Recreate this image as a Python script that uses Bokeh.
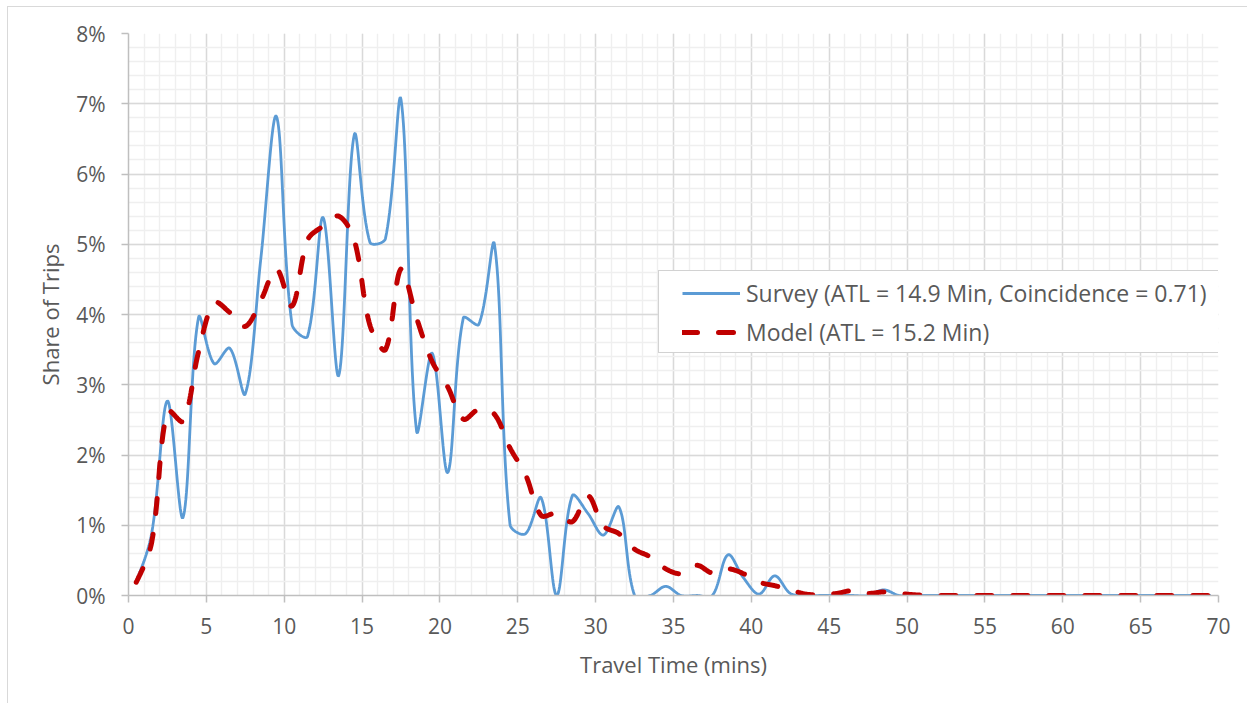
import numpy as np
from bokeh.plotting import figure
from bokeh.models import (FixedTicker, PrintfTickFormatter, Legend, LegendItem,
                          ColumnDataSource, Range1d)
from bokeh.embed import file_html
from bokeh.resources import INLINE

# ---- data (share of trips, %) ----
minutes = [0.5 + i for i in range(70)]
survey = [0.20, 0.90, 2.77, 1.11, 3.96, 3.30, 3.52, 2.87, 4.80, 6.82,
          3.86, 3.69, 5.38, 3.13, 6.56, 5.03, 5.08, 7.06, 2.34, 3.45,
          1.75, 3.95, 3.86, 5.00, 1.01, 0.88, 1.39, 0.00, 1.42, 1.17,
          0.86, 1.26, 0.00, 0.00, 0.13, 0.00, 0.00, 0.00, 0.58, 0.25,
          0.02, 0.28, 0.03, 0.00, 0.00, 0.00, 0.00, 0.00, 0.08, 0.00,
          0.00, 0.00, 0.00, 0.00, 0.00, 0.00, 0.00, 0.00, 0.00, 0.00,
          0.00, 0.00, 0.00, 0.00, 0.00, 0.00, 0.00, 0.00, 0.00, 0.00]
model = [0.19, 0.77, 2.63, 2.48, 3.47, 4.17, 4.03, 3.83, 4.20, 4.65,
         4.12, 5.06, 5.26, 5.40, 5.06, 3.85, 3.50, 4.65, 3.95, 3.33,
         2.97, 2.51, 2.65, 2.58, 2.10, 1.72, 1.14, 1.17, 1.05, 1.42,
         0.99, 0.88, 0.66, 0.55, 0.38, 0.31, 0.43, 0.32, 0.38, 0.31,
         0.19, 0.14, 0.08, 0.02, 0.01, 0.03, 0.07, 0.03, 0.05, 0.03,
         0.01, 0.00, 0.00, 0.00, 0.00, 0.00, 0.00, 0.00, 0.00, 0.00,
         0.00, 0.00, 0.00, 0.00, 0.00, 0.00, 0.00, 0.00, 0.00, 0.00]
x_ticks = list(range(0, 75, 5))
y_ticks = list(range(0, 9))
survey_label = "Survey (ATL = 14.9 Min, Coincidence = 0.71)"
model_label = "Model (ATL = 15.2 Min)"

FRAME_W, FRAME_H = 1090, 562
X_MAX, Y_MAX = 70.0, 8.0


def smooth(xs, ys, n=24):
    """Excel-like smoothed line: cubic Bezier segments whose control-point
    lengths are scaled by neighbouring chord lengths (in screen space)."""
    sx = FRAME_W / X_MAX
    sy = FRAME_H / Y_MAX
    P = np.column_stack([np.asarray(xs, float) * sx, np.asarray(ys, float) * sy])
    m = len(P)
    out = []
    t = np.linspace(0, 1, n, endpoint=False)[:, None]

    def ctrl(i):
        if i == 0 or i == m - 1:
            return P[i], P[i]
        d0 = np.hypot(*(P[i] - P[i - 1]))
        d1 = np.hypot(*(P[i + 1] - P[i]))
        T = P[i + 1] - P[i - 1]
        tot = d0 + d1 if d0 + d1 > 0 else 1.0
        k = 2.0 / 3.0 * 0.5
        return P[i] - T * d0 / tot * k, P[i] + T * d1 / tot * k

    C = [ctrl(i) for i in range(m)]
    for i in range(m - 1):
        p1, p2 = P[i], P[i + 1]
        c1 = C[i][1]
        c2 = C[i + 1][0]
        if i == 0:
            c1 = p1 + (c2 - p1) / 2.0
        if i == m - 2:
            c2 = p2 + (c1 - p2) / 2.0
        b = (1 - t) ** 3 * p1 + 3 * (1 - t) ** 2 * t * c1 + 3 * (1 - t) * t ** 2 * c2 + t ** 3 * p2
        out.append(b)
    out.append(P[-1][None, :])
    arr = np.vstack(out)
    return arr[:, 0] / sx, arr[:, 1] / sy


FONT = "Open Sans"
TXT = "#595959"

p = figure(width=1240, height=697, output_backend="svg", toolbar_location=None,
           x_range=Range1d(0, X_MAX), y_range=Range1d(0, Y_MAX),
           min_border_left=120, min_border_right=30, min_border_top=26,
           min_border_bottom=109)
p.styles = {"border-left": "1px solid #d9d9d9", "border-top": "1px solid #d9d9d9",
            "margin-left": "7px", "margin-top": "6px"}
p.outline_line_color = None
p.background_fill_color = "white"
p.border_fill_color = "white"

# grids
p.xgrid.ticker = FixedTicker(ticks=x_ticks, minor_ticks=list(range(0, 71)))
p.ygrid.ticker = FixedTicker(ticks=y_ticks, minor_ticks=[i * 0.2 for i in range(41)])
for g in (p.xgrid, p.ygrid):
    g.grid_line_color = "#d9d9d9"
    g.grid_line_width = 1.4
    g.minor_grid_line_color = "#efefef"
    g.minor_grid_line_width = 1.4

# axes
p.xaxis.ticker = FixedTicker(ticks=x_ticks)
p.yaxis.ticker = FixedTicker(ticks=y_ticks)
p.yaxis.formatter = PrintfTickFormatter(format="%d%%")
for ax in (p.xaxis, p.yaxis):
    ax.axis_line_color = "#bfbfbf"
    ax.axis_line_width = 1.5
    ax.major_tick_line_color = "#bfbfbf"
    ax.major_tick_line_width = 1.5
    ax.major_tick_out = 7
    ax.major_tick_in = 0
    ax.minor_tick_line_color = None
    ax.major_label_text_font = FONT
    ax.major_label_text_font_size = "21px"
    ax.major_label_text_color = TXT
    ax.axis_label_text_font = FONT
    ax.axis_label_text_font_size = "22px"
    ax.axis_label_text_color = TXT
    ax.axis_label_text_font_style = "normal"
p.xaxis.axis_label = "Travel Time (mins)"
p.yaxis.axis_label = "Share of Trips"
p.xaxis.major_label_standoff = 15
p.xaxis.axis_label_standoff = 12
p.yaxis.major_label_standoff = 16
p.yaxis.axis_label_standoff = 8

sx_, sy_ = smooth(minutes, survey)
mx_, my_ = smooth(minutes, model)
src_s = ColumnDataSource(dict(x=sx_, y=sy_))
src_m = ColumnDataSource(dict(x=mx_, y=my_))

r_s = p.line("x", "y", source=src_s, line_color="#5b9bd5", line_width=2.8)
r_m = p.line("x", "y", source=src_m, line_color="#c00000", line_width=5,
             line_dash="15 21", line_cap="round")

legend = Legend(items=[LegendItem(label=survey_label, renderers=[r_s]),
                       LegendItem(label=model_label, renderers=[r_m])],
                location=(530, 242))
legend.label_text_font = FONT
legend.label_text_font_size = "23px"
legend.label_text_color = TXT
legend.border_line_color = "#a6a6a6"
legend.border_line_width = 1.5
legend.background_fill_color = "white"
legend.background_fill_alpha = 1
try:
    legend.padding = (23, 11, 6, 4)
except Exception:
    legend.padding = 8
legend.spacing = 7
legend.label_height = 28
legend.glyph_height = 28
legend.glyph_width = 58
legend.label_standoff = 6
legend.margin = 0
p.add_layout(legend)

open("out.html", "w").write(file_html(p, INLINE))
